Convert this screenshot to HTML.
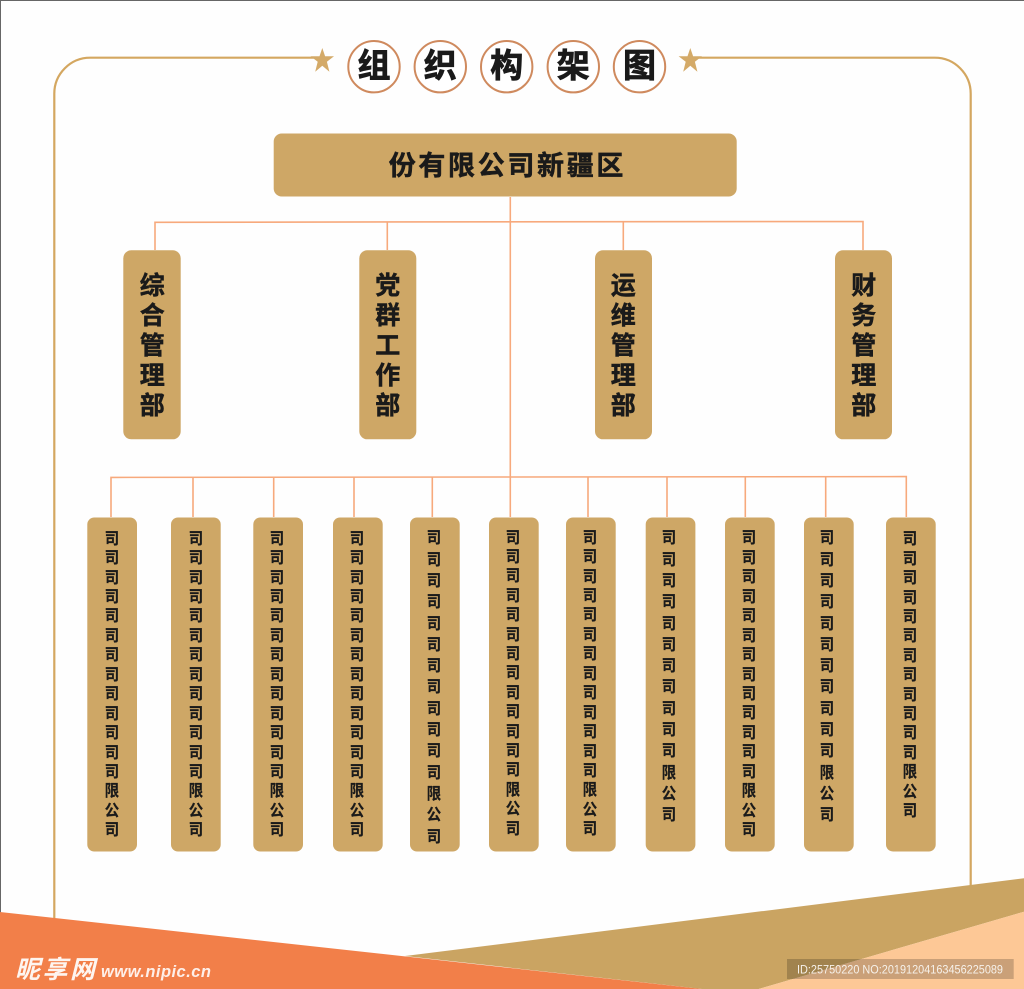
<!DOCTYPE html>
<html lang="zh">
<head>
<meta charset="utf-8">
<title>组织构架图</title>
<style>
html,body{margin:0;padding:0;background:#fff}
#p{position:relative;width:1024px;height:989px;overflow:hidden;background:#fefefe;font-family:"Liberation Sans","Noto Sans CJK SC",sans-serif;color:#1a1a1a}
svg{position:absolute;left:0;top:0}
.t{position:absolute;font-weight:700;text-align:center}
.c{font-size:16px;width:16px;margin-left:-.5px;margin-top:1px;word-break:break-all;transform:scaleX(.9);-webkit-text-stroke:.25px #1a1a1a}
.m{font-size:25px;width:25px;margin-left:-.5px;line-height:30px;top:270.5px;word-break:break-all;-webkit-text-stroke:.5px #1a1a1a}
.h{font-size:33px;width:40px;height:40px;line-height:40px;top:46px;-webkit-text-stroke:.8px #1a1a1a}
</style>
</head>
<body>
<div id="p">
<svg width="1024" height="989" viewBox="0 0 1024 989">
  <rect x="0" y="0" width="1024" height="1" fill="#666"/>
  <rect x="0" y="0" width="1" height="989" fill="#666"/>
  <g fill="none" stroke="#d4a760" stroke-width="2.2">
    <path d="M54.3 918V94a36 36 0 0 1 36-36.3H322"/>
    <path d="M690 57.7H934.7a36 36 0 0 1 36 36.3V886"/>
  </g>
  <polygon fill="#d4aa68" points="322.3,48 325.1,56.3 334,56.3 326.9,61.7 329.4,71.7 322.3,65.8 315.2,71.7 317.7,61.7 310.6,56.3 319.5,56.3"/>
  <polygon fill="#d4aa68" points="690.3,48 693.1,56.3 702,56.3 694.9,61.7 697.4,71.7 690.3,65.8 683.2,71.7 685.7,61.7 678.6,56.3 687.5,56.3"/>
  <g fill="#fff" stroke="#cf8a5e" stroke-width="2">
    <circle cx="374" cy="66.7" r="25.7"/>
    <circle cx="440.3" cy="66.7" r="25.7"/>
    <circle cx="506.7" cy="66.7" r="25.7"/>
    <circle cx="573.3" cy="66.7" r="25.7"/>
    <circle cx="639.5" cy="66.7" r="25.7"/>
  </g>
  <g fill="none" stroke="#f7a97c" stroke-width="1.6">
    <path d="M155 250V222.3L510.3 221.8L863 221.5V250"/>
    <path d="M387.3 222V250M623.3 222V250"/>
    <path d="M510.3 197V517"/>
    <path d="M111 517V477.4L510 477L906.3 476.6V517"/>
    <path d="M193 477V517M273.7 477V517M354 477V517M432.3 477V517M588 477V517M667 477V517M745.3 477V517M825.7 477V517"/>
  </g>
  <g fill="#cea766">
    <rect x="273.7" y="133.5" width="463" height="63" rx="8"/>
    <rect x="123.3" y="250.3" width="57.4" height="189" rx="8"/>
    <rect x="359.3" y="250.3" width="57" height="189" rx="8"/>
    <rect x="595" y="250.3" width="57" height="189" rx="8"/>
    <rect x="835" y="250.3" width="57" height="189" rx="8"/>
    <rect x="87.3" y="517.5" width="49.7" height="334" rx="7"/>
    <rect x="171" y="517.5" width="49.7" height="334" rx="7"/>
    <rect x="253.3" y="517.5" width="49.7" height="334" rx="7"/>
    <rect x="333" y="517.5" width="49.7" height="334" rx="7"/>
    <rect x="410" y="517.5" width="49.7" height="334" rx="7"/>
    <rect x="489" y="517.5" width="49.7" height="334" rx="7"/>
    <rect x="566" y="517.5" width="49.7" height="334" rx="7"/>
    <rect x="645.7" y="517.5" width="49.7" height="334" rx="7"/>
    <rect x="725" y="517.5" width="49.7" height="334" rx="7"/>
    <rect x="804" y="517.5" width="49.7" height="334" rx="7"/>
    <rect x="886" y="517.5" width="49.7" height="334" rx="7"/>
  </g>
  <polygon fill="#caa462" points="405,956 1024,878.3 1024,911.7 758.7,989 702,989"/>
  <polygon fill="#fdc896" points="758.7,989 1024,911.7 1024,989"/>
  <polygon fill="#f27f49" points="0,912 702,989 0,989"/>
  <rect x="787" y="959" width="226.7" height="20" fill="#000" fill-opacity=".2"/>
  <text x="797" y="973.5" fill="#f6f1ea" font-family="Liberation Sans, sans-serif" font-size="11.5" textLength="206" lengthAdjust="spacingAndGlyphs">ID:25750220 NO:20191204163456225089</text>
  <text x="15" y="978" fill="#fff" fill-opacity=".92" font-family="Liberation Sans, Noto Sans CJK SC, sans-serif" font-size="25" font-weight="700" textLength="80" lengthAdjust="spacing" font-style="italic">昵享网</text>
  <text x="101" y="977" fill="#fff" fill-opacity=".88" font-family="Liberation Sans, sans-serif" font-size="16.5" font-weight="700" font-style="italic" textLength="110" lengthAdjust="spacing">www.nipic.cn</text>
</svg>

<div class="t h" style="left:354px">组</div>
<div class="t h" style="left:420.3px">织</div>
<div class="t h" style="left:486.7px">构</div>
<div class="t h" style="left:553.3px">架</div>
<div class="t h" style="left:619.5px">图</div>

<div class="t" style="left:388.7px;top:149px;width:240px;font-size:27px;line-height:34px;letter-spacing:2.67px;white-space:nowrap;text-align:left;-webkit-text-stroke:.5px #1a1a1a">份有限公司新疆区</div>

<div class="t m" style="left:140.3px">综合管理部</div>
<div class="t m" style="left:375.7px">党群工作部</div>
<div class="t m" style="left:611.3px">运维管理部</div>
<div class="t m" style="left:851.7px">财务管理部</div>

<div class="t c" style="left:104.8px;top:528.6px;line-height:19.45px">司司司司司司司司司司司司司限公司</div>
<div class="t c" style="left:188.2px;top:528.6px;line-height:19.45px">司司司司司司司司司司司司司限公司</div>
<div class="t c" style="left:269.8px;top:528.6px;line-height:19.45px">司司司司司司司司司司司司司限公司</div>
<div class="t c" style="left:349.8px;top:528.6px;line-height:19.45px">司司司司司司司司司司司司司限公司</div>
<div class="t c" style="left:426.2px;top:527.4px;line-height:21.3px">司司司司司司司司司司司司限公司</div>
<div class="t c" style="left:505.2px;top:527.6px;line-height:19.4px">司司司司司司司司司司司司司限公司</div>
<div class="t c" style="left:582.2px;top:527.6px;line-height:19.45px">司司司司司司司司司司司司司限公司</div>
<div class="t c" style="left:661.8px;top:527.4px;line-height:21.3px">司司司司司司司司司司司限公司</div>
<div class="t c" style="left:741.5px;top:528.4px;line-height:19.45px">司司司司司司司司司司司司司限公司</div>
<div class="t c" style="left:819.8px;top:527.4px;line-height:21.3px">司司司司司司司司司司司限公司</div>
<div class="t c" style="left:902.5px;top:529.4px;line-height:19.4px">司司司司司司司司司司司司限公司</div>
</div>
</body>
</html>
